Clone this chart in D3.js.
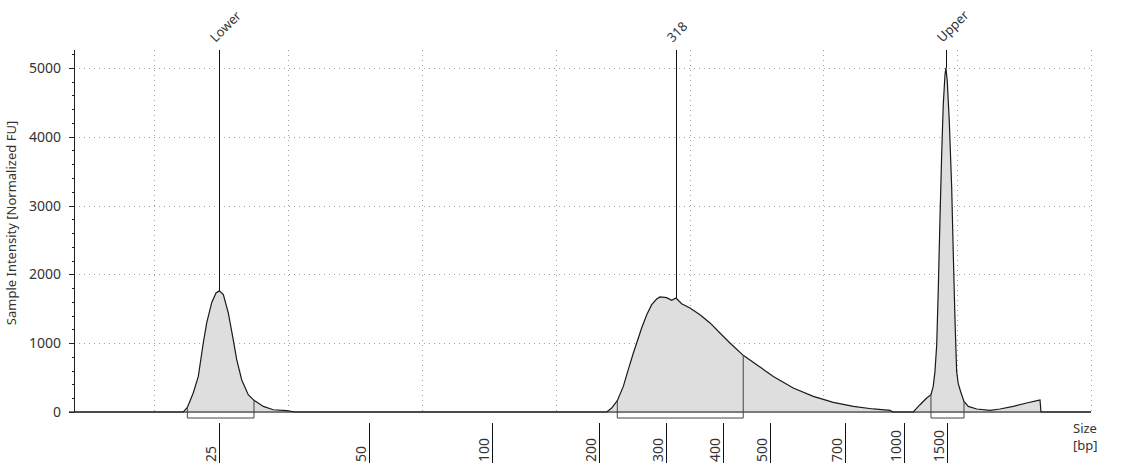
<!DOCTYPE html>
<html><head><meta charset="utf-8">
<script src="https://cdn.jsdelivr.net/npm/d3@7/dist/d3.min.js"></script>
<style>
html,body{margin:0;padding:0;background:#fff;}
svg{display:block;font-family:"Noto Sans",sans-serif;}
</style></head>
<body><svg id="c" width="1125" height="466"></svg>
<script>
// Migration time (s) and intensity (FU) of the electropherogram trace
const traceTime = [39,47.17,47.47,47.91,48.29,48.66,48.92,49.29,49.61,49.86,50.16,50.53,50.90,51.16,51.53,52.02,52.45,53.15,53.89,54.89,55.51,
  78.81,79.18,79.60,80.05,80.42,80.80,81.05,81.42,81.80,82.17,82.54,82.79,83.29,83.66,83.99,84.41,85.03,85.78,86.53,87.27,88.02,89.01,90.02,91.26,92.75,94.25,95.74,97.24,98.73,99.98,100.20,
  101.72,102.22,102.72,103.04,103.21,103.34,103.47,103.59,103.71,103.84,103.96,104.09,104.16,104.26,104.41,104.59,104.71,104.84,104.96,105.08,105.26,105.51,105.83,106.46,107.45,108.20,109.19,110.19,111.06,111.19,111.26,115];
const traceFU = [0,0,67,276,517,1003,1298,1589,1730,1760,1705,1439,1051,760,469,251,169,81,33,19,0,
  0,58,164,372,615,858,1003,1221,1414,1560,1642,1672,1661,1622,1657,1574,1512,1414,1294,1148,1003,823,688,517,349,227,140,81,44,23,0,
  0,106,203,251,372,590,978,1802,2770,3740,4467,4903,5000,4805,4224,3256,2286,1317,590,411,295,154,81,44,23,44,81,131,169,175,0,0];

// Ladder (size standard) positions
const ladderBp = [25,50,100,200,300,400,500,700,1000,1500];
const ladderTime = [49.84,61.07,70.24,78.23,83.22,87.48,91.01,96.61,101.05,104.21];

// Peak markers
const peakLabels = ["Lower","318","Upper"];
const peakTime = [49.86,83.99,104.16];
const peakFU = [1760,1660,5000];

// Integrated regions (start/end time)
const regionStart = [47.47,79.60,103.04];
const regionEnd = [52.45,89.01,105.51];

// Axes
const yTicks = [0,1000,2000,3000,4000,5000];
const gridTimes = [45,55,65,75,85,95,105,115];

const svg = d3.select("#c");
const x = d3.scaleLinear().domain([39,115]).range([74,1091]);
const y = d3.scaleLinear().domain([0,5260]).range([412,50]);
const data = traceTime.map((t,i)=>({t,v:traceFU[i]}));
const interp = t => { const i = d3.bisectRight(traceTime,t); const a=data[i-1], b=data[i]; return a.v + (b.v-a.v)*(t-a.t)/(b.t-a.t); };

// grid
const g = svg.append("g");
g.selectAll(".hg").data(yTicks.filter(d=>d>0)).join("line")
  .attr("x1",x(39)).attr("x2",x(115)).attr("y1",d=>Math.round(y(d))+0.5).attr("y2",d=>Math.round(y(d))+0.5)
  .attr("stroke","#a0a0a0").attr("stroke-dasharray","1,4");
g.selectAll(".vg").data(gridTimes).join("line")
  .attr("x1",d=>Math.round(x(d))+0.5).attr("x2",d=>Math.round(x(d))+0.5).attr("y1",y(5260)).attr("y2",y(0))
  .attr("stroke","#a0a0a0").attr("stroke-dasharray","1,4");

// area fill
svg.append("path").datum(data)
  .attr("d",d3.area().x(d=>x(d.t)).y0(y(0)).y1(d=>y(d.v)))
  .attr("fill","#dedede");

// baseline (x axis)
svg.append("line").attr("x1",69).attr("x2",x(115)).attr("y1",y(0)).attr("y2",y(0))
  .attr("stroke","#7a7a7a").attr("stroke-width",2);

// trace line
svg.append("path").datum(data)
  .attr("d",d3.line().x(d=>x(d.t)).y(d=>y(d.v)))
  .attr("fill","none").attr("stroke","#1a1a1a").attr("stroke-width",1.2);

// region brackets
regionStart.forEach((s,i)=>{
  const e = regionEnd[i];
  const p = d3.path();
  p.moveTo(x(s),y(interp(s))); p.lineTo(x(s),y(0)+6); p.lineTo(x(e),y(0)+6); p.lineTo(x(e),y(interp(e)));
  svg.append("path").attr("d",p.toString()).attr("fill","none").attr("stroke","#444").attr("stroke-width",1);
});

// peak markers
peakLabels.forEach((lab,i)=>{
  const px = Math.round(x(peakTime[i]))+0.5;
  svg.append("line").attr("x1",px).attr("x2",px).attr("y1",y(5260)).attr("y2",y(peakFU[i]))
    .attr("stroke","#111").attr("stroke-width",1);
  svg.append("text").attr("transform",`translate(${px-4},43) rotate(-45)`)
    .attr("font-size",13).attr("fill","#333").text(lab);
});

// y axis
const ya = svg.append("g").attr("transform","translate(74,0)");
ya.append("line").attr("x1",0.5).attr("x2",0.5).attr("y1",y(5260)).attr("y2",y(0)).attr("stroke","#222");
ya.selectAll(".mt").data(d3.range(0,5201,200)).join("line")
  .attr("x1",d=>d%1000===0?-5:-2).attr("x2",0).attr("y1",d=>Math.round(y(d))+0.5).attr("y2",d=>Math.round(y(d))+0.5)
  .attr("stroke","#222");
ya.selectAll(".yl").data(yTicks).join("text")
  .attr("x",-13).attr("y",d=>y(d)).attr("dy","0.36em").attr("text-anchor","end")
  .attr("font-size",14).attr("fill","#333").text(d=>d);
svg.append("text").attr("transform","translate(16,223) rotate(-90)").attr("text-anchor","middle")
  .attr("font-size",13).attr("fill","#333").text("Sample Intensity [Normalized FU]");

// x ladder ticks
ladderTime.forEach((t,i)=>{
  const px = Math.round(x(t))+0.5;
  svg.append("line").attr("x1",px).attr("x2",px).attr("y1",423).attr("y2",463).attr("stroke","#111");
  svg.append("text").attr("transform",`translate(${px-4},462) rotate(-90)`)
    .attr("font-size",14).attr("fill","#333").text(ladderBp[i]);
});
svg.append("text").attr("x",1073).attr("y",433).attr("font-size",13).attr("fill","#333").text("Size");
svg.append("text").attr("x",1073).attr("y",450).attr("font-size",13).attr("fill","#333").text("[bp]");
</script></body></html>
